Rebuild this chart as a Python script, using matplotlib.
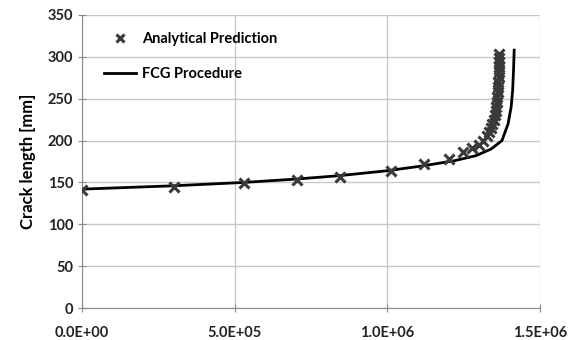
import matplotlib.pyplot as plt
from matplotlib.ticker import FuncFormatter

# Analytical prediction (markers)
cycles_pred = [0, 3.0e5, 5.3e5, 7.05e5, 8.45e5, 1.01e6, 1.12e6, 1.20e6, 1.248e6,
               1.277e6, 1.30e6, 1.312e6, 1.325e6, 1.333e6, 1.339e6, 1.344e6, 1.348e6,
               1.351e6, 1.354e6, 1.356e6, 1.358e6, 1.360e6, 1.361e6, 1.362e6, 1.363e6,
               1.364e6, 1.365e6, 1.365e6, 1.366e6, 1.366e6, 1.366e6]
crack_pred = [141, 145, 149, 153, 157, 164, 172, 178, 186,
              191, 195, 200, 205, 210, 215, 220, 225,
              230, 235, 240, 246, 252, 258, 264, 270,
              276, 282, 288, 294, 299, 303]

# FCG procedure (line)
cycles_fcg = [0, 3.0e5, 5.3e5, 7.0e5, 8.4e5, 1.0e6, 1.12e6, 1.22e6, 1.29e6, 1.34e6,
              1.375e6, 1.395e6, 1.405e6, 1.41e6, 1.413e6, 1.415e6]
crack_fcg = [142, 146, 150, 154, 158, 164, 170, 176, 182, 190,
             200, 220, 240, 260, 285, 308]

plt.rcParams['font.family'] = ['Lato', 'DejaVu Sans']

fig = plt.figure(figsize=(5.74, 3.4), dpi=100)
ax = fig.add_axes([0.143, 0.094, 0.798, 0.862])

ax.plot(cycles_fcg, crack_fcg, color='black', lw=2, label='FCG Procedure', zorder=3)
ax.plot(cycles_pred, crack_pred, ls='none', marker='x', ms=7, mew=2.2,
        color='#3a3a3a', label='Analytical Prediction', zorder=4)

ax.set_xlim(0, 1.5e6)
ax.set_ylim(0, 350)
ax.set_xticks([0, 5e5, 1e6, 1.5e6])
ax.set_yticks(range(0, 351, 50))
ax.xaxis.set_major_formatter(FuncFormatter(lambda v, p: '%.1E' % v))
ax.grid(True, color='#c8c8c8', lw=1)
ax.set_axisbelow(True)
for s in ['top', 'right']:
    ax.spines[s].set_visible(False)
for s in ['left', 'bottom']:
    ax.spines[s].set_color('#8a8a8a')
ax.tick_params(direction='inout', length=6, color='#8a8a8a', labelsize=10.5)
ax.tick_params(axis='x', pad=10)
for lab in ax.get_xticklabels() + ax.get_yticklabels():
    lab.set_fontweight('bold')
    lab.set_color('#222222')

ax.set_ylabel('Crack length [mm]', fontsize=12, fontweight='bold', labelpad=8)

h, l = ax.get_legend_handles_labels()
ax.legend(h[::-1], l[::-1], loc='upper left', frameon=False,
          prop={'size': 10.5, 'weight': 'bold'}, markerscale=0.8,
          bbox_to_anchor=(0.02, 0.985), handlelength=2.2, handletextpad=0.4,
          labelspacing=1.4)

fig.savefig('out.png', dpi=100)
